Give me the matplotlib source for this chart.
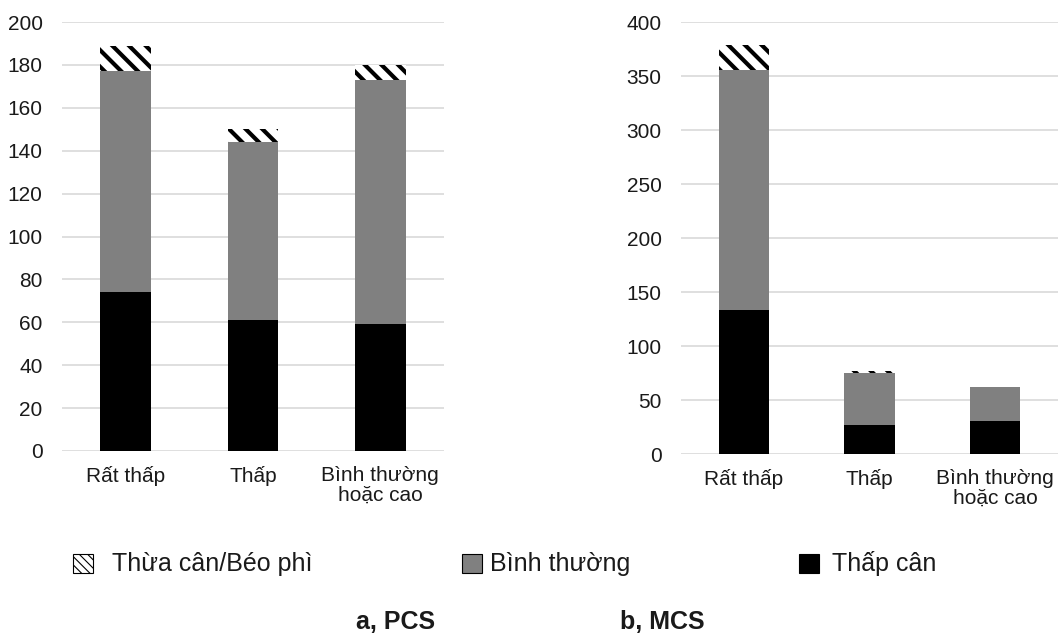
import matplotlib.pyplot as plt
from matplotlib.patches import Rectangle

plt.rcParams['font.family'] = ['Liberation Sans', 'DejaVu Sans']
plt.rcParams['hatch.linewidth'] = 3.0

categories = ['Rất thấp', 'Thấp', 'Bình thường\nhoặc cao']

# a, PCS
pcs_thap_can = [74, 61, 59]
pcs_binh_thuong = [103, 83, 114]
pcs_thua_can = [12, 6, 7]

# b, MCS
mcs_thap_can = [133, 27, 31]
mcs_binh_thuong = [223, 48, 31]
mcs_thua_can = [23, 2, 0]

legend_labels = ['Thừa cân/Béo phì', 'Bình thường', 'Thấp cân']
captions = ['a, PCS', 'b, MCS']

W, H = 1059, 635
fig = plt.figure(figsize=(W / 100, H / 100), dpi=100)
ax1 = fig.add_axes([62 / W, 1 - 451 / H, 382 / W, 429 / H])
ax2 = fig.add_axes([681 / W, 1 - 454 / H, 377 / W, 432 / H])


def draw(ax, low, mid, high, ymax, step):
    x = range(len(categories))
    ax.bar(x, low, width=0.4, color='black', linewidth=0, zorder=3)
    ax.bar(x, mid, width=0.4, bottom=low, color='#808080', linewidth=0, zorder=3)
    tops = [a + b for a, b in zip(low, mid)]
    ax.bar(x, high, width=0.4, bottom=tops, color='white', edgecolor='black',
           hatch='\\\\', linewidth=0, zorder=3)
    ax.set_ylim(0, ymax)
    ax.set_xlim(-0.5, len(categories) - 0.5)
    ax.set_yticks(range(0, ymax + 1, step))
    ax.set_xticks(list(x))
    ax.set_xticklabels(categories, fontsize=15, color='#1a1a1a', linespacing=1.05)
    ax.tick_params(axis='y', length=0, labelsize=15, pad=14, labelcolor='#1a1a1a')
    ax.tick_params(axis='x', length=0, pad=11)
    ax.grid(axis='y', color='#d9d9d9', linewidth=1.2, zorder=0)
    for s in ax.spines.values():
        s.set_visible(False)


draw(ax1, pcs_thap_can, pcs_binh_thuong, pcs_thua_can, 200, 20)
draw(ax2, mcs_thap_can, mcs_binh_thuong, mcs_thua_can, 400, 50)

# legend drawn by hand so each entry sits where the reference has it
plt.rcParams['hatch.linewidth'] = 0.8
leg_styles = [
    dict(facecolor='white', edgecolor='black', hatch='\\\\\\\\'),
    dict(facecolor='#808080', edgecolor='black'),
    dict(facecolor='black', edgecolor='black'),
]
box_x = [73, 462, 799]
text_x = [112, 490, 832]
for st, lab, bx, tx in zip(leg_styles, legend_labels, box_x, text_x):
    fig.add_artist(Rectangle((bx / W, 1 - 573 / H), 20 / W, 19 / H,
                             transform=fig.transFigure, linewidth=0.8, **st))
    fig.text(tx / W, 1 - 564 / H, lab, fontsize=18, color='#1a1a1a',
             ha='left', va='center')

fig.text(396 / W, 1 - 622 / H, captions[0], fontsize=18, fontweight='bold',
         ha='center', va='center', color='#1a1a1a')
fig.text(662 / W, 1 - 622 / H, captions[1], fontsize=18, fontweight='bold',
         ha='center', va='center', color='#1a1a1a')

fig.savefig('out.png', dpi=100)
